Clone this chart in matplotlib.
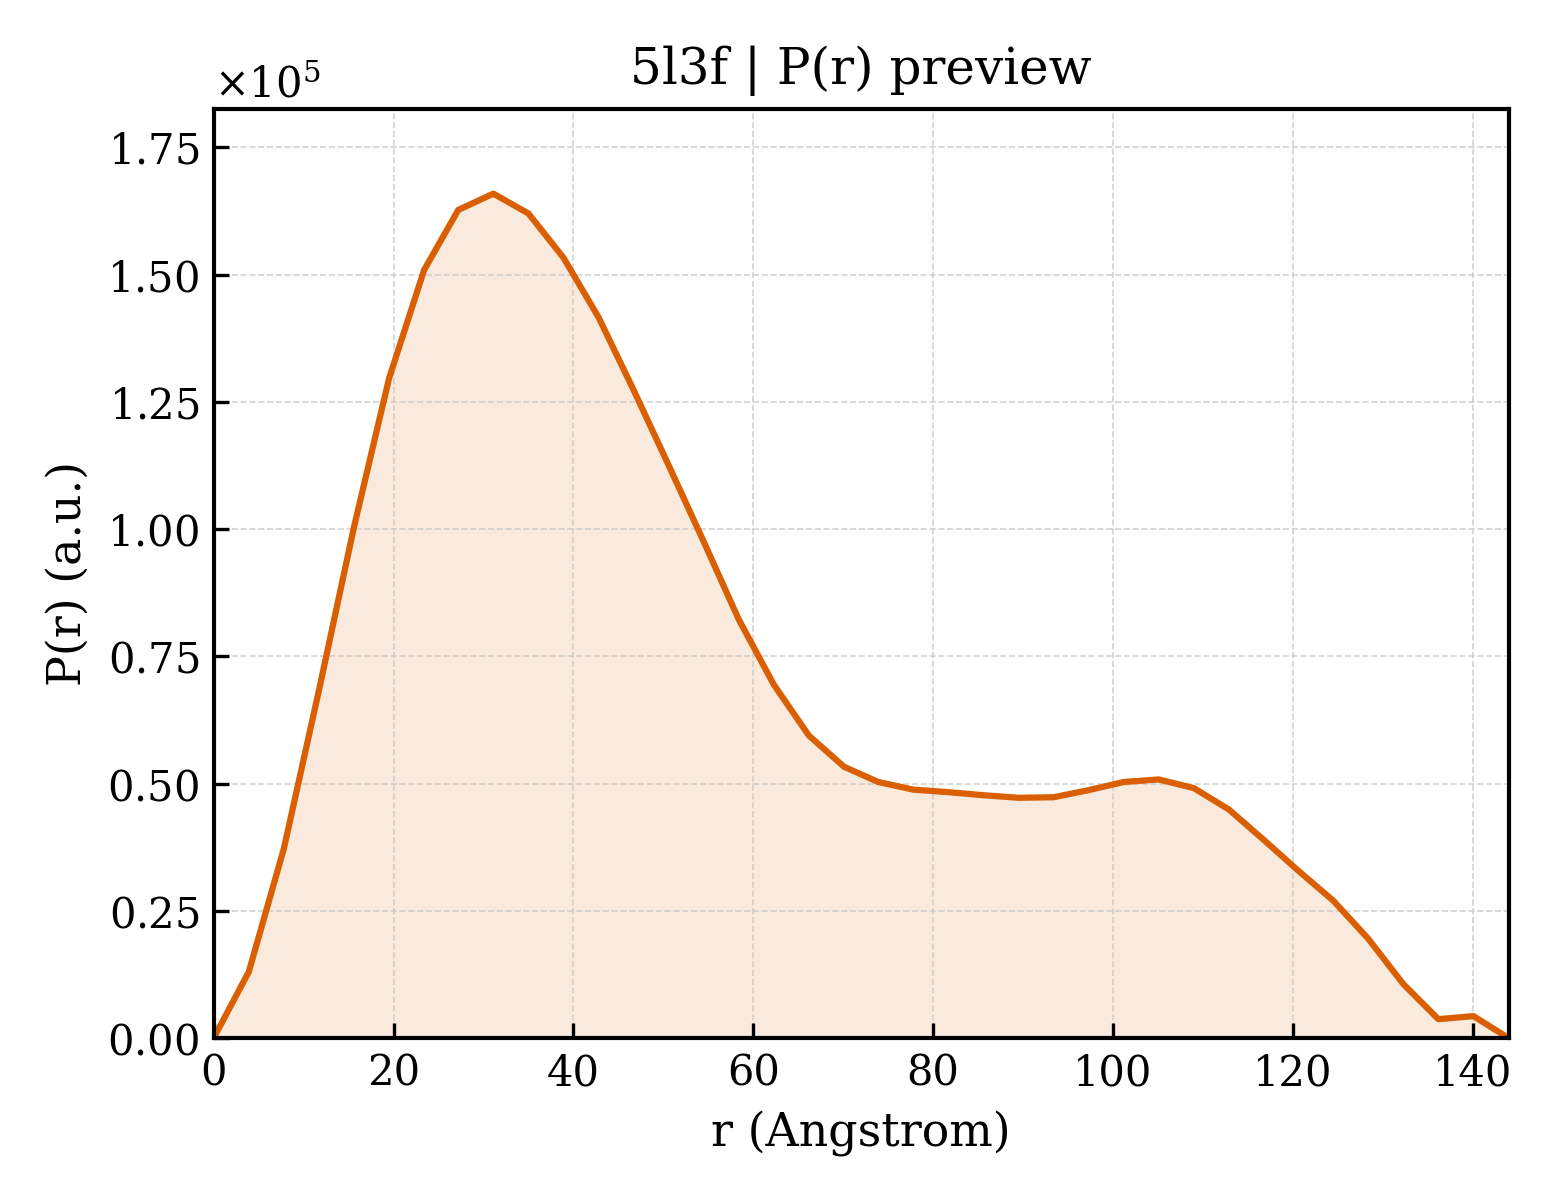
import numpy as np
import matplotlib
matplotlib.use("Agg")
import matplotlib.pyplot as plt

# -----------------------------
# Data
# -----------------------------
r_vals = [0.0, 3.9, 7.8, 11.7, 15.6, 19.5, 23.4, 27.2, 31.1, 35.0,
          38.9, 42.8, 46.7, 50.6, 54.5, 58.4, 62.3, 66.2, 70.1, 73.9,
          77.8, 81.7, 85.6, 89.5, 93.4, 97.3, 101.2, 105.1, 109.0, 112.9,
          116.8, 120.6, 124.5, 128.4, 132.3, 136.2, 140.1, 144.0]
pr_vals = [0.0, 0.130, 0.372, 0.683, 1.004, 1.296, 1.509, 1.627, 1.659, 1.620,
           1.533, 1.416, 1.273, 1.125, 0.975, 0.822, 0.694, 0.594, 0.533, 0.503,
           0.488, 0.483, 0.477, 0.472, 0.473, 0.487, 0.503, 0.508, 0.491, 0.449,
           0.389, 0.329, 0.270, 0.195, 0.106, 0.037, 0.043, 0.0]

r = np.array(r_vals)
pr = np.array(pr_vals) * 1e5

title = "5l3f | P(r) preview"
color = "#D95F02"

# -----------------------------
# Plot
# -----------------------------
plt.rcParams["font.family"] = "DejaVu Serif"
plt.rcParams["mathtext.fontset"] = "dejavuserif"

fig, ax = plt.subplots(figsize=(5.2, 4), dpi=300)
fig.subplots_adjust(left=0.137, right=0.967, bottom=0.135, top=0.909)

ax.fill_between(r, pr, 0, color=color, alpha=0.13, linewidth=0)
ax.plot(r, pr, color=color, linewidth=1.5)

ax.set_xlim(0, r.max())
ax.set_ylim(0, pr.max() * 1.1)

ax.set_title(title, fontsize=12)
ax.set_xlabel("r (Angstrom)", fontsize=11)
ax.set_ylabel("P(r) (a.u.)", fontsize=11)

ax.tick_params(direction="in", labelsize=10, length=3.5, width=0.8)
ax.ticklabel_format(axis="y", style="sci", scilimits=(0, 0), useMathText=True)
ax.yaxis.get_offset_text().set_fontsize(10)

ax.grid(True, linestyle="--", linewidth=0.4, color="#c8c8c8", alpha=0.8)
for s in ax.spines.values():
    s.set_linewidth(1.0)

plt.savefig("out.png", dpi=300)
plt.close()
